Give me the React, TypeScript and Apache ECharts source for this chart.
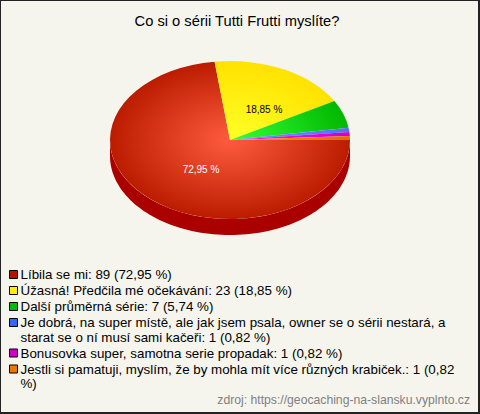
import React, { useEffect, useRef } from "react";
import * as echarts from "echarts";

const titleText = "Co si o sérii Tutti Frutti myslíte?";
const sliceNames = [
  "Líbila se mi",
  "Úžasná! Předčila mé očekávání",
  "Další průměrná série",
  "Je dobrá, na super místě, ale jak jsem psala, owner se o sérii nestará, a starat se o ní musí sami kačeři",
  "Bonusovka super, samotna serie propadak",
  "Jestli si pamatuji, myslím, že by mohla mít více různých krabiček.",
];
const sliceValues = [89, 23, 7, 1, 1, 1];
const legendLines = [
  ["Líbila se mi: 89 (72,95 %)"],
  ["Úžasná! Předčila mé očekávání: 23 (18,85 %)"],
  ["Další průměrná série: 7 (5,74 %)"],
  ["Je dobrá, na super místě, ale jak jsem psala, owner se o sérii nestará, a", "starat se o ní musí sami kačeři: 1 (0,82 %)"],
  ["Bonusovka super, samotna serie propadak: 1 (0,82 %)"],
  ["Jestli si pamatuji, myslím, že by mohla mít více různých krabiček.: 1 (0,82", "%)"],
];
const sliceLabels = ["72,95 %", "18,85 %", "", "", "", ""];
const labelColors = ["#ffffff", "#000000"];
const labelOffsets = [[-29, 29], [34, -31]];
const legendColors = ["#bb1100", "#ffee00", "#00bb11", "#3366ff", "#cc00cc", "#ee7700"];
const innerColors = ["#ff5c3e", "#ffff26", "#38ff38", "#6e96ff", "#f020f0", "#ff8c1a"];
const outerColors = ["#bb1c00", "#ffe200", "#00b800", "#4f72ff", "#cc00cc", "#e86c00"];
const sourceText = "zdroj: https://geocaching-na-slansku.vyplnto.cz";

const CX = 230, CY = 140, RX = 120, RY = 79, DEPTH = 16;
const FONT = "Liberation Sans, Arial, sans-serif";

export default function App() {
  const ref = useRef<HTMLDivElement>(null);
  useEffect(() => {
    document.body.style.margin = "0";
    const chart = echarts.init(ref.current!, null, { renderer: "svg" });
    const total = sliceValues.reduce((a, b) => a + b, 0);

    const renderItem = (params: any, api: any) => {
      const i = params.dataIndex;
      const v = api.value(0);
      let before = 0;
      for (let k = 0; k < i; k++) before += sliceValues[k];
      const a0 = (before / total) * Math.PI * 2;
      const a1 = ((before + v) / total) * Math.PI * 2;
      const children: any[] = [];
      // extruded rim, only on the front half of the ellipse
      const s0 = Math.max(a0, 0), s1 = Math.min(a1, Math.PI);
      if (s1 > s0) {
        const top: number[][] = [], bottom: number[][] = [];
        const steps = 90;
        for (let n = 0; n <= steps; n++) {
          const t = s0 + ((s1 - s0) * n) / steps;
          const x = CX + RX * Math.cos(t), y = CY + RY * Math.sin(t);
          top.push([x, y]);
          bottom.unshift([x, y + DEPTH]);
        }
        children.push({
          type: "polygon",
          shape: { points: top.concat(bottom) },
          style: { fill: "#aa0000" },
        });
      }
      children.push({
        type: "group",
        x: CX,
        y: CY,
        scaleY: RY / RX,
        children: [
          {
            type: "sector",
            shape: { cx: 0, cy: 0, r0: 0, r: RX, startAngle: a0, endAngle: a1, clockwise: true },
            style: {
              fill: new echarts.graphic.RadialGradient(0, 0, RX, [
                { offset: 0, color: innerColors[i] },
                { offset: 1, color: outerColors[i] },
              ], true),
            },
          },
        ],
      });
      if (sliceLabels[i]) {
        children.push({
          type: "text",
          x: CX + labelOffsets[i][0],
          y: CY + labelOffsets[i][1],
          style: {
            text: sliceLabels[i],
            fill: labelColors[i],
            font: `10px ${FONT}`,
            align: "center",
            verticalAlign: "middle",
          },
        });
      }
      return { type: "group", children };
    };

    const legendGraphics: any[] = [];
    let y = 268;
    legendLines.forEach((lines, i) => {
      legendGraphics.push({
        type: "rect",
        shape: { x: 9.5, y: y + 2.5, width: 8, height: 8 },
        style: { fill: legendColors[i], stroke: "#000000", lineWidth: 1 },
      });
      lines.forEach((line, j) => {
        legendGraphics.push({
          type: "text",
          x: 20.5,
          y: y + j * 14.5,
          style: { text: line, fill: "#000000", font: `13.35px ${FONT}`, align: "left", verticalAlign: "top" },
        });
      });
      y += 16 + (lines.length - 1) * 14.5;
    });

    chart.setOption({
      animation: false,
      backgroundColor: "#f5f5ee",
      title: {
        text: titleText,
        left: 232,
        top: 8,
        textAlign: "center",
        textStyle: { fontFamily: FONT, fontSize: 14.7, fontWeight: "normal", color: "#000000" },
      },
      series: [
        {
          type: "custom",
          name: "Co si o sérii",
          coordinateSystem: "none",
          renderItem,
          data: sliceValues.map((value, i) => ({ name: sliceNames[i], value: [value] })),
          silent: true,
        },
      ],
      graphic: [
        ...legendGraphics,
        {
          type: "text",
          right: 10,
          top: 394,
          style: { text: sourceText, fill: "#808080", font: `12.2px ${FONT}` },
        },
        {
          type: "polygon",
          shape: { points: [[0, 0], [480, 0], [480, 414], [0, 414], [0, 0], [1, 1], [1, 412], [478, 412], [478, 1], [1, 1]] },
          style: { fill: "#222222" },
        },
      ],
    });
    return () => chart.dispose();
  }, []);
  return <div ref={ref} style={{ width: 480, height: 414 }} />;
}
